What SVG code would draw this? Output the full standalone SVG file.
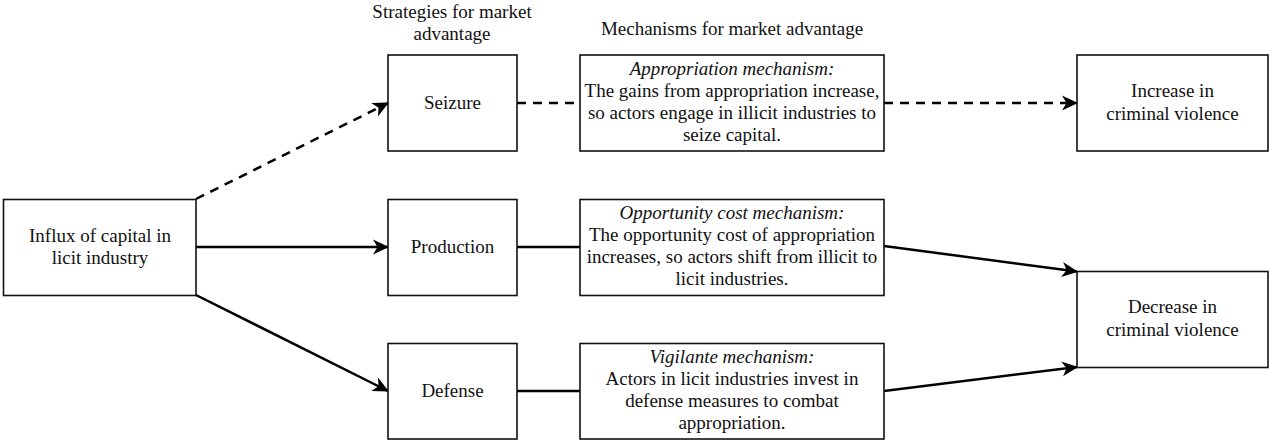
<svg xmlns="http://www.w3.org/2000/svg" width="1269" height="440" viewBox="0 0 1269 440">
<style>
.box{fill:#fff;stroke:#111;stroke-width:1.6}
.t{font-family:"Liberation Serif","Times New Roman",serif;font-size:19px;fill:#111;text-anchor:middle}
.i{font-style:italic}
.c{fill:none;stroke:#000;stroke-width:2.5}
.d{stroke-dasharray:9 7}
</style>
<defs>
<marker id="arr" viewBox="0 0 16 16" markerWidth="16" markerHeight="16" refX="15" refY="8" orient="auto" markerUnits="userSpaceOnUse">
<path d="M0,0.5 L16,8 L0,15.5 L4.5,8 Z" fill="#000"/>
</marker>
</defs>
<rect width="1269" height="440" fill="#fff"/>
<g id="headers">
<text class="t" x="452" y="18">Strategies for market</text>
<text class="t" x="452" y="40">advantage</text>
<text class="t" x="732" y="35">Mechanisms for market advantage</text>
</g>
<g id="connectors">
<line class="c d" x1="196" y1="199" x2="388" y2="103" marker-end="url(#arr)"/>
<line class="c" x1="196" y1="247" x2="388" y2="247" marker-end="url(#arr)"/>
<line class="c" x1="196" y1="295" x2="388" y2="391" marker-end="url(#arr)"/>
<line class="c d" x1="517" y1="103" x2="580" y2="103"/>
<line class="c d" x1="884" y1="103" x2="1077" y2="103" marker-end="url(#arr)"/>
<line class="c" x1="517" y1="247" x2="580" y2="247"/>
<line class="c" x1="884" y1="246" x2="1077" y2="271.5" marker-end="url(#arr)"/>
<line class="c" x1="517" y1="391" x2="580" y2="391"/>
<line class="c" x1="884" y1="391" x2="1077" y2="367" marker-end="url(#arr)"/>
</g>
<g id="influx">
<rect class="box" x="3.5" y="199.5" width="192.5" height="96"/>
<text class="t" x="100" y="242">Influx of capital in</text>
<text class="t" x="100" y="264">licit industry</text>
</g>
<g id="seizure">
<rect class="box" x="388" y="55" width="129" height="96"/>
<text class="t" x="452.5" y="109">Seizure</text>
</g>
<g id="production">
<rect class="box" x="388" y="199.5" width="129" height="96"/>
<text class="t" x="452.5" y="253">Production</text>
</g>
<g id="defense">
<rect class="box" x="388" y="343.5" width="129" height="95.5"/>
<text class="t" x="452.5" y="397">Defense</text>
</g>
<g id="appropriation">
<rect class="box" x="580" y="55" width="304" height="96"/>
<text class="t i" x="732" y="75">Appropriation mechanism:</text>
<text class="t" x="732" y="97">The gains from appropriation increase,</text>
<text class="t" x="732" y="119">so actors engage in illicit industries to</text>
<text class="t" x="732" y="141">seize capital.</text>
</g>
<g id="opportunity">
<rect class="box" x="580" y="199.5" width="304" height="96"/>
<text class="t i" x="732" y="219">Opportunity cost mechanism:</text>
<text class="t" x="732" y="241">The opportunity cost of appropriation</text>
<text class="t" x="732" y="263">increases, so actors shift from illicit to</text>
<text class="t" x="732" y="285">licit industries.</text>
</g>
<g id="vigilante">
<rect class="box" x="580" y="343.5" width="304" height="95.5"/>
<text class="t i" x="732" y="363">Vigilante mechanism:</text>
<text class="t" x="732" y="385">Actors in licit industries invest in</text>
<text class="t" x="732" y="407">defense measures to combat</text>
<text class="t" x="732" y="429">appropriation.</text>
</g>
<g id="increase">
<rect class="box" x="1077" y="55" width="191" height="96"/>
<text class="t" x="1172.5" y="97">Increase in</text>
<text class="t" x="1172.5" y="120">criminal violence</text>
</g>
<g id="decrease">
<rect class="box" x="1077" y="271.5" width="191" height="96"/>
<text class="t" x="1172.5" y="313">Decrease in</text>
<text class="t" x="1172.5" y="336">criminal violence</text>
</g>
</svg>
